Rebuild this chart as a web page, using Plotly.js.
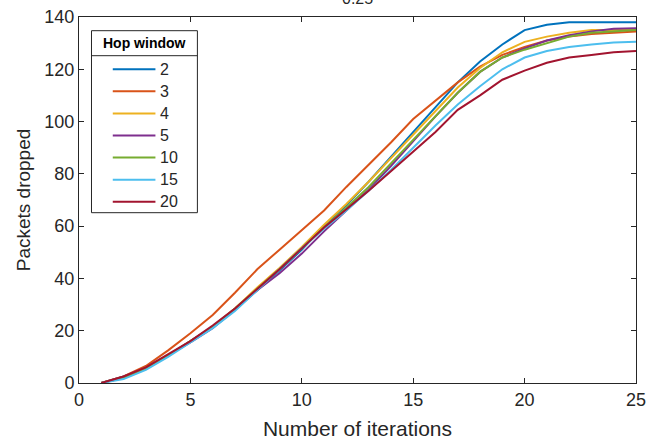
<!DOCTYPE html>
<html>
<head>
<meta charset="utf-8">
<script src="https://cdn.plot.ly/plotly-3.0.1.min.js"></script>
<style>html,body{margin:0;padding:0;background:#fff;}#chart{width:657px;height:444px;}</style>
</head>
<body>
<div id="chart"></div>
<script>
const iterations = [1,2,3,4,5,6,7,8,9,10,11,12,13,14,15,16,17,18,19,20,21,22,23,24,25];
const seriesNames = ['2','3','4','5','10','15','20'];
const seriesColors = ['#0072BD','#D95319','#EDB120','#7E2F8E','#77AC30','#4DBEEE','#A2142F'];
const hop2  = [0,2.5,5.5,10.5,16,21.5,28,35.5,43,51,60,68,77,86.5,96,105.5,115,123,129.5,135,137,138,138,138,138];
const hop3  = [0,2.5,6.5,12.5,19,26,34.5,43.5,51,58.5,66,75,83.5,92,101,108,115,121,125.5,128.5,131,132.5,133.5,134,134.5];
const hop4  = [0,2,5.5,10.5,16,21.5,28.5,36.5,44,52,60.5,68.5,77,86,95,104,113,120.5,126.5,130.5,132.5,134,135,135,135];
const hop5  = [0,2,5.5,10.5,15.5,21,28,35.5,42,49.5,58,66,74,83,92.5,102,111,119,124.5,128,131,133,134.5,135.5,135.7];
const hop10 = [0,2,5.5,10.5,16,21.5,28.5,36,43.5,51.5,59.5,67,75,84,93,102,111,119,124.5,127.5,130,132.5,134,134.5,135];
const hop15 = [0,1.5,5,10,15.5,21,27.5,35.5,43.5,51.5,59,66,73.5,81.5,90,98.5,106.5,113.5,120,124.5,127,128.5,129.5,130.2,130.5];
const hop20 = [0,2.5,6,11,16,22,28.5,36,43.5,51.5,59.5,66.5,73.5,81,88.5,96,104.5,110,116,119.5,122.5,124.5,125.5,126.5,127];
const seriesValues = [hop2,hop3,hop4,hop5,hop10,hop15,hop20];
const xTicks = [0,5,10,15,20,25];
const yTicks = [0,20,40,60,80,100,120,140];
const legendTitle = 'Hop window';
const chartTitle = '0.25';

const FONT = 'Liberation Sans, Arial, sans-serif';
const INK = '#262626';

const traces = seriesNames.map((n,i)=>({
  x: iterations, y: seriesValues[i], name: n, type:'scatter', mode:'lines',
  line:{color:seriesColors[i], width:2}, showlegend:false
}));

// plot area in pixels (for legend placement)
const M = {l:78.5, r:21, t:17, b:61};
const PW = 657 - M.l - M.r, PH = 444 - M.t - M.b;
const px = v => (v - M.l) / PW;
const py = v => 1 - (v - M.t) / PH;

// legend box built from series names/colours
const LB = {left:91, right:197, top:30.7, bottom:212.7, divider:55.7, first:69.3, step:22.07, lineL:112.3, lineR:155, textL:158};
const shapes = [
  {type:'rect', xref:'paper', yref:'paper', x0:px(LB.left), x1:px(LB.right), y0:py(LB.bottom), y1:py(LB.top),
   line:{color:INK, width:1}, fillcolor:'#fff', layer:'above'},
  {type:'line', xref:'paper', yref:'paper', x0:px(LB.left), x1:px(LB.right), y0:py(LB.divider), y1:py(LB.divider),
   line:{color:INK, width:1}, layer:'above'}
];
const annotations = [
  {text:'<b>'+legendTitle+'</b>', xref:'paper', yref:'paper', x:px((LB.left+LB.right)/2), y:py((LB.top+LB.divider)/2),
   xanchor:'center', yanchor:'middle', showarrow:false, font:{family:FONT, size:14, color:'#000'}},
  {text:chartTitle, xref:'paper', yref:'paper', x:0.5, y:py(-2), xanchor:'center', yanchor:'middle', showarrow:false,
   font:{family:FONT, size:16, color:INK}}
];
seriesNames.forEach((n,i)=>{
  const yy = LB.first + LB.step*i;
  shapes.push({type:'line', xref:'paper', yref:'paper', x0:px(LB.lineL), x1:px(LB.lineR), y0:py(yy), y1:py(yy),
    line:{color:seriesColors[i], width:2}, layer:'above'});
  annotations.push({text:n, xref:'paper', yref:'paper', x:px(LB.textL), y:py(yy), xanchor:'left', yanchor:'middle',
    showarrow:false, font:{family:FONT, size:16, color:INK}});
});

const axisCommon = {
  showgrid:false, zeroline:false, showline:true, linecolor:INK, linewidth:1,
  mirror:'ticks', ticks:'inside', ticklen:5, tickcolor:INK,
  tickfont:{family:FONT, size:18, color:INK}
};

const layout = {
  width:657, height:444,
  margin:M,
  paper_bgcolor:'#fff', plot_bgcolor:'#fff',
  font:{family:FONT, color:INK},
  showlegend:false,
  xaxis:Object.assign({}, axisCommon, {range:[0,25], tickvals:xTicks, ticktext:xTicks.map(String),
    title:{text:'Number of iterations', font:{size:21, color:INK}, standoff:12}}),
  yaxis:Object.assign({}, axisCommon, {range:[0,140], tickvals:yTicks, ticktext:yTicks.map(String),
    title:{text:'Packets dropped', font:{size:19, color:INK}, standoff:8}}),
  shapes:shapes,
  annotations:annotations
};

Plotly.newPlot('chart', traces, layout, {displayModeBar:false, staticPlot:true});
</script>
</body>
</html>
